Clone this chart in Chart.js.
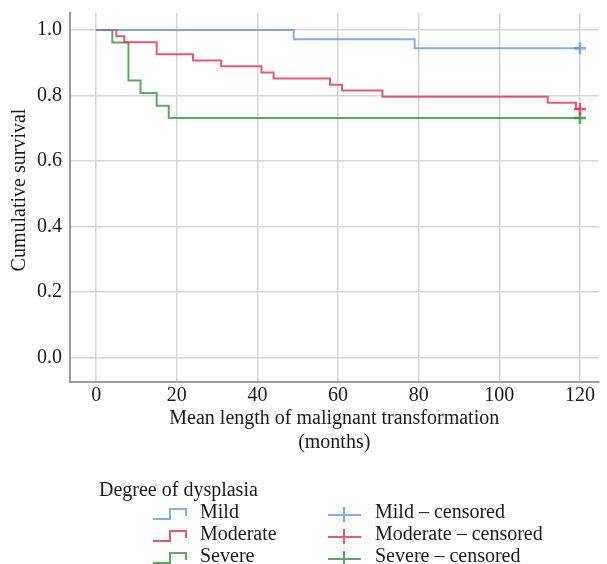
<!DOCTYPE html>
<html>
<head>
<meta charset="utf-8">
<script src="https://cdn.jsdelivr.net/npm/chart.js@4.4.1/dist/chart.umd.min.js"></script>
<style>
  html, body { margin: 0; padding: 0; background: #fff; }
  #survivalChart { display: block; }
</style>
</head>
<body>
<canvas id="survivalChart" width="607" height="564"></canvas>
<script>
// Kaplan-Meier steps (months, cumulative survival)
const mildTimes = [0, 49, 79, 120];
const mildSurv = [1.0, 0.972, 0.944, 0.944];

const moderateTimes = [0, 5, 7, 15, 24, 31, 41, 44, 58, 61, 71, 112, 119, 120];
const moderateSurv = [1.0, 0.981, 0.963, 0.926, 0.907, 0.889, 0.870, 0.852, 0.833, 0.815, 0.796, 0.778, 0.759, 0.759];

const severeTimes = [0, 4, 8, 11, 15, 18, 120];
const severeSurv = [1.0, 0.962, 0.846, 0.808, 0.769, 0.731, 0.731];

// censored marks at end of follow-up
const censoredTime = 120;
const censoredSurv = [0.944, 0.759, 0.731];

const groupNames = ['Mild', 'Moderate', 'Severe'];
const xTicks = [0, 20, 40, 60, 80, 100, 120];
const yTicks = [0, 0.2, 0.4, 0.6, 0.8, 1.0];

const colors = ['rgba(90, 145, 228, 0.75)', 'rgba(228, 45, 85, 0.8)', 'rgba(55, 145, 65, 0.8)'];
const fontFamily = "'Liberation Serif', 'Times New Roman', serif";
const textColor = '#1a1a1a';

function toPoints(times, surv) {
    return times.map(function(t, i) { return { x: t, y: surv[i] }; });
}

const curves = [
    toPoints(mildTimes, mildSurv),
    toPoints(moderateTimes, moderateSurv),
    toPoints(severeTimes, severeSurv)
];

const datasets = [];
curves.forEach(function(pts, i) {
    datasets.push({
        label: groupNames[i],
        data: pts,
        stepped: 'before',
        borderColor: colors[i],
        borderWidth: 2,
        pointRadius: 0,
        fill: false
    });
});
censoredSurv.forEach(function(s, i) {
    datasets.push({
        label: groupNames[i] + ' \u2013 censored',
        data: [{ x: censoredTime, y: s }],
        showLine: false,
        pointStyle: 'cross',
        pointRadius: 6,
        pointBorderWidth: 2.5,
        borderColor: colors[i],
        backgroundColor: colors[i]
    });
});

// y title + legend drawn by hand: title + two columns
const legendPlugin = {
    id: 'kmLegend',
    afterDraw: function(chart) {
        const ctx = chart.ctx;
        ctx.save();
        ctx.font = '20px ' + fontFamily;
        ctx.fillStyle = textColor;
        ctx.textBaseline = 'middle';

        // rotated y axis title
        ctx.save();
        ctx.translate(20, 190);
        ctx.rotate(-Math.PI / 2);
        ctx.textAlign = 'center';
        ctx.fillText('Cumulative survival', 0, 0);
        ctx.restore();

        ctx.textAlign = 'left';
        ctx.fillText('Degree of dysplasia', 99, 491);

        const rows = [513, 535, 557];
        ctx.lineWidth = 2;
        rows.forEach(function(c, i) {
            ctx.strokeStyle = colors[i];
            // step sample
            ctx.beginPath();
            ctx.moveTo(153, c + 6);
            ctx.lineTo(170, c + 6);
            ctx.lineTo(170, c - 4);
            ctx.lineTo(186, c - 4);
            ctx.lineTo(186, c + 3);
            ctx.stroke();
            // censored sample
            ctx.beginPath();
            ctx.moveTo(328, c + 2);
            ctx.lineTo(361, c + 2);
            ctx.moveTo(344, c - 6);
            ctx.lineTo(344, c + 9);
            ctx.stroke();

            ctx.fillStyle = textColor;
            ctx.fillText(groupNames[i], 200, c);
            ctx.fillText(groupNames[i] + ' \u2013 censored', 375, c);
        });
        ctx.restore();
    }
};

const ctx = document.getElementById('survivalChart').getContext('2d');
new Chart(ctx, {
    type: 'line',
    data: { datasets: datasets },
    options: {
        responsive: false,
        animation: false,
        layout: { padding: { top: 13, right: 7, left: 0, bottom: 0 } },
        plugins: {
            legend: { display: false },
            tooltip: { enabled: false }
        },
        scales: {
            x: {
                type: 'linear',
                min: -6.5,
                max: 124.6,
                afterBuildTicks: function(scale) {
                    scale.ticks = xTicks.map(function(v) { return { value: v }; });
                },
                afterFit: function(scale) {
                    scale.height = 182;
                    scale.paddingLeft = 0;
                    scale.paddingRight = 0;
                },
                grid: { color: '#d6d6d6', lineWidth: 1.5, drawTicks: false },
                border: { color: '#9c9c9c', width: 2 },
                ticks: {
                    padding: 2,
                    color: textColor,
                    font: { family: fontFamily, size: 20 },
                    maxRotation: 0
                },
                title: {
                    display: true,
                    text: ['Mean length of malignant transformation', '(months)'],
                    color: textColor,
                    font: { family: fontFamily, size: 20, lineHeight: 1.2 },
                    padding: { top: 0, bottom: 109 }
                }
            },
            y: {
                min: -0.075,
                max: 1.052,
                afterBuildTicks: function(scale) {
                    scale.ticks = yTicks.map(function(v) { return { value: v }; });
                },
                afterFit: function(scale) {
                    scale.width = 70;
                    scale.paddingTop = 0;
                    scale.paddingBottom = 0;
                },
                grid: { color: '#d6d6d6', lineWidth: 1.5, drawTicks: false },
                border: { color: '#9c9c9c', width: 2 },
                ticks: {
                    padding: 8,
                    color: textColor,
                    font: { family: fontFamily, size: 20 },
                    callback: function(v) { return v.toFixed(1); }
                }
            }
        }
    },
    plugins: [legendPlugin]
});
</script>
</body>
</html>
